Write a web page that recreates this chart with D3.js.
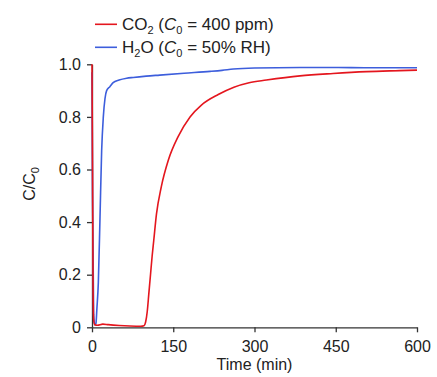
<!DOCTYPE html>
<html>
<head>
<meta charset="utf-8">
<script src="https://cdn.jsdelivr.net/npm/d3@7"></script>
<style>
  body { margin: 0; background: #fff; }
  svg { font-family: "Liberation Sans", Arial, Helvetica, sans-serif; }
</style>
</head>
<body>
<div id="chart"></div>
<script>
// readings (time in min, C/C0)
const co2Time = [0, 1, 2, 3, 5, 10, 20, 30, 50, 70, 90, 96, 99, 102, 105, 108, 111, 114, 119, 128, 141, 159, 181, 202, 233, 262, 290, 322, 384, 445, 507, 568, 600];
const co2Value = [1.0, 0.6, 0.15, 0.03, 0.01, 0.008, 0.012, 0.01, 0.007, 0.005, 0.004, 0.006, 0.02, 0.06, 0.13, 0.2, 0.27, 0.33, 0.43, 0.535, 0.636, 0.725, 0.8, 0.845, 0.885, 0.913, 0.93, 0.94, 0.956, 0.965, 0.972, 0.976, 0.978];

const h2oTime = [0, 1, 3, 5, 7.4, 9, 11.7, 14.8, 17.8, 20.9, 24, 27, 33, 39, 50, 64, 76, 100, 125, 170, 218, 240, 261, 300, 384, 450, 507, 600];
const h2oValue = [0.97, 0.5, 0.05, 0.01, 0.016, 0.07, 0.17, 0.42, 0.67, 0.8, 0.87, 0.9, 0.915, 0.93, 0.94, 0.947, 0.95, 0.955, 0.959, 0.966, 0.973, 0.977, 0.982, 0.986, 0.988, 0.988, 0.987, 0.987];

const xTicks = [0, 150, 300, 450, 600];
const yTicks = [0, 0.2, 0.4, 0.6, 0.8, 1.0];
const yTickLabels = ["0", "0.2", "0.4", "0.6", "0.8", "1.0"];

const width = 437;
const height = 377;

const svg = d3.select("#chart").append("svg")
    .attr("width", width)
    .attr("height", height);

const x = d3.scaleLinear().domain([0, 600]).range([92, 417]);
const y = d3.scaleLinear().domain([0, 1]).range([327.3, 64.3]);

// axes
const xAxis = svg.append("g")
    .attr("transform", `translate(0,${y(0)})`)
    .call(d3.axisBottom(x).tickValues(xTicks).tickSize(5).tickSizeOuter(0).tickPadding(8));

const yAxis = svg.append("g")
    .attr("transform", `translate(${x(0)},0)`)
    .call(d3.axisLeft(y).tickValues(yTicks).tickSize(5).tickSizeOuter(0).tickPadding(6)
        .tickFormat((d, i) => yTickLabels[i]));

[xAxis, yAxis].forEach(g => {
    g.selectAll("path, line").attr("stroke", "#333").attr("stroke-width", 1.3);
    g.selectAll("text").attr("font-size", 16).attr("fill", "#222").attr("font-family", null);
});

// axis titles
svg.append("text")
    .attr("x", 254.5)
    .attr("y", 370)
    .attr("text-anchor", "middle")
    .attr("font-size", 16)
    .attr("fill", "#222")
    .text("Time (min)");

const yTitle = svg.append("text")
    .attr("transform", "translate(35,184) rotate(-90)")
    .attr("text-anchor", "middle")
    .attr("font-size", 16)
    .attr("fill", "#222");
yTitle.append("tspan").text("C/C");
yTitle.append("tspan").attr("font-size", 11).attr("dy", 4).text("0");

// data lines
const line = d3.line()
    .x(d => x(d[0]))
    .y(d => y(d[1]))
    .curve(d3.curveMonotoneX);

const h2o = h2oTime.map((t, i) => [t, h2oValue[i]]);
const co2 = co2Time.map((t, i) => [t, co2Value[i]]);

svg.append("path")
    .datum(h2o)
    .attr("d", line)
    .attr("fill", "none")
    .attr("stroke", "#3d5edc")
    .attr("stroke-width", 1.6);

svg.append("path")
    .datum(co2)
    .attr("d", line)
    .attr("fill", "none")
    .attr("stroke", "#e4161e")
    .attr("stroke-width", 1.6);

// legend
const legend = [
    { name: "CO", sub: "2", c0: "400 ppm", color: "#e4161e", y: 24.3 },
    { name: "H", sub: "2", after: "O", c0: "50% RH", color: "#3d5edc", y: 47.3 }
];

legend.forEach(d => {
    svg.append("line")
        .attr("x1", 95).attr("x2", 117)
        .attr("y1", d.y).attr("y2", d.y)
        .attr("stroke", d.color)
        .attr("stroke-width", 1.6);

    const t = svg.append("text")
        .attr("x", 122)
        .attr("y", d.y + 5.5)
        .attr("font-size", 17)
        .attr("fill", "#222");
    t.append("tspan").text(d.name);
    t.append("tspan").attr("font-size", 11).attr("dy", 4).text(d.sub);
    if (d.after) t.append("tspan").attr("dy", -4).text(d.after);
    t.append("tspan").attr("dy", d.after ? 0 : -4).text(" (");
    t.append("tspan").attr("font-style", "italic").text("C");
    t.append("tspan").attr("font-size", 11).attr("dy", 4).text("0");
    t.append("tspan").attr("dy", -4).text(" = " + d.c0 + ")");
});
</script>
</body>
</html>
